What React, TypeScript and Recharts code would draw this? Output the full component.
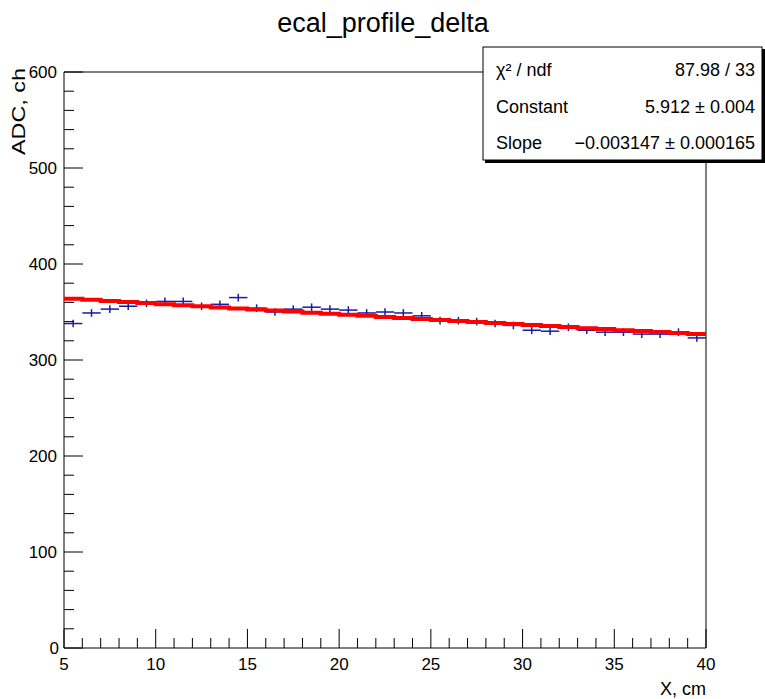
import React from "react";
import {
  ComposedChart,
  XAxis,
  YAxis,
  Scatter,
  Line,
  ErrorBar,
  ReferenceArea,
} from "recharts";

const binCenters = [
  5.5, 6.5, 7.5, 8.5, 9.5, 10.5, 11.5, 12.5, 13.5, 14.5, 15.5, 16.5, 17.5, 18.5,
  19.5, 20.5, 21.5, 22.5, 23.5, 24.5, 25.5, 26.5, 27.5, 28.5, 29.5, 30.5, 31.5,
  32.5, 33.5, 34.5, 35.5, 36.5, 37.5, 38.5, 39.5,
];
const adcValues = [
  338, 349, 353, 356, 359, 361, 361, 356, 358, 365, 354, 350, 353, 355, 353, 352,
  349, 350, 349, 346, 341, 341, 340, 338, 336, 331, 330, 334, 331, 329, 329, 327,
  327, 329, 323,
];
const adcErrors = [
  4, 4, 4, 4, 4, 4, 4, 4, 4, 4, 4, 4, 4, 4, 4, 4, 4, 4, 4, 4, 4, 4, 4, 4, 4, 4, 4,
  4, 4, 4, 4, 4, 4, 4, 4,
];
const fitX = [
  5, 6, 7, 8, 9, 10, 11, 12, 13, 14, 15, 16, 17, 18, 19, 20, 21, 22, 23, 24, 25,
  26, 27, 28, 29, 30, 31, 32, 33, 34, 35, 36, 37, 38, 39, 40,
];
const fitValues = [
  363.8, 362.7, 361.5, 360.4, 359.3, 358.1, 357.0, 355.9, 354.8, 353.7, 352.6,
  351.5, 350.4, 349.3, 348.2, 347.1, 346.0, 344.9, 343.8, 342.8, 341.7, 340.6,
  339.6, 338.5, 337.4, 336.4, 335.3, 334.3, 333.2, 332.2, 331.1, 330.1, 329.1,
  328.0, 327.0, 326.0,
];
const xTicks = [
  5, 6, 7, 8, 9, 10, 11, 12, 13, 14, 15, 16, 17, 18, 19, 20, 21, 22, 23, 24, 25,
  26, 27, 28, 29, 30, 31, 32, 33, 34, 35, 36, 37, 38, 39, 40,
];
const yTicks = [
  0, 20, 40, 60, 80, 100, 120, 140, 160, 180, 200, 220, 240, 260, 280, 300, 320,
  340, 360, 380, 400, 420, 440, 460, 480, 500, 520, 540, 560, 580, 600,
];
const statRows = [
  ["χ² / ndf", "87.98 / 33"],
  ["Constant", "5.912 ± 0.004"],
  ["Slope", "−0.003147 ± 0.000165"],
];

const points = binCenters.map((x, i) => ({
  x,
  y: adcValues[i],
  ex: 0.5,
  ey: adcErrors[i],
}));
const fitData = fitX.map((x, i) => ({ x, fit: fitValues[i] }));

const FONT = "'Liberation Sans', Arial, Helvetica, sans-serif";

const XTick = (props: any) => {
  const { x, y, payload } = props;
  const v = payload.value;
  const major = v % 5 === 0;
  return (
    <g>
      <line x1={x} x2={x} y1={y} y2={y - (major ? 19 : 10)} stroke="#000" strokeWidth={1} />
      {major && (
        <text x={x} y={y + 22} textAnchor="middle" fontSize={17} fontFamily={FONT} fill="#000">
          {v}
        </text>
      )}
    </g>
  );
};

const YTick = (props: any) => {
  const { x, y, payload } = props;
  const v = payload.value;
  const major = v % 100 === 0;
  return (
    <g>
      <line x1={x} x2={x + (major ? 19 : 10)} y1={y} y2={y} stroke="#000" strokeWidth={1} />
      {major && (
        <text
          x={v === 0 ? x - 5 : x - 7}
          y={y + 6}
          textAnchor="end"
          fontSize={17}
          fontFamily={FONT}
          fill="#000"
        >
          {v}
        </text>
      )}
    </g>
  );
};

const NoShape = () => null;

export default function App() {
  return (
    <div style={{ position: "absolute", left: 0, top: 0, width: 765, height: 699, background: "#fff" }}>
      <ComposedChart
        width={765}
        height={699}
        margin={{ top: 72, right: 59, bottom: 21, left: 24 }}
        style={{ position: "absolute", left: 0, top: 0 }}
      >
        <XAxis
          type="number"
          dataKey="x"
          domain={[5, 40]}
          ticks={xTicks}
          interval={0}
          allowDataOverflow
          axisLine={false}
          tickLine={false}
          tickSize={0}
          tickMargin={0}
          height={30}
          tick={<XTick />}
        />
        <YAxis
          type="number"
          domain={[0, 600]}
          ticks={yTicks}
          interval={0}
          allowDataOverflow
          axisLine={false}
          tickLine={false}
          tickSize={0}
          tickMargin={0}
          width={40}
          tick={<YTick />}
        />
        <ReferenceArea x1={5} x2={40} y1={0} y2={600} fill="none" stroke="#000" strokeWidth={1} ifOverflow="visible" />
        <Scatter data={points} dataKey="y" shape={<NoShape />} isAnimationActive={false}>
          <ErrorBar dataKey="ex" direction="x" width={0} stroke="#1a1aa6" strokeWidth={1.5} isAnimationActive={false} />
          <ErrorBar dataKey="ey" direction="y" width={0} stroke="#1a1aa6" strokeWidth={1.5} isAnimationActive={false} />
        </Scatter>
        <Line
          data={fitData}
          dataKey="fit"
          type="stepAfter"
          stroke="#ff0000"
          strokeWidth={4}
          dot={false}
          activeDot={false}
          isAnimationActive={false}
        />
      </ComposedChart>
      <svg
        width={765}
        height={699}
        style={{ position: "absolute", left: 0, top: 0, pointerEvents: "none" }}
      >
        <text x={383} y={32} textAnchor="middle" fontSize={27} fontFamily={FONT} fill="#000">
          ecal_profile_delta
        </text>
        <text
          x={0}
          y={0}
          textAnchor="end"
          fontSize={18}
          fontFamily={FONT}
          fill="#000"
          transform="translate(25 68) rotate(-90) scale(1.3 1)"
        >
          ADC, ch
        </text>
        <text x={706} y={695} textAnchor="end" fontSize={18} fontFamily={FONT} fill="#000">
          X, cm
        </text>
        <rect x={485} y={49} width={280} height={114} fill="#000" />
        <rect x={483} y={47} width={279} height={113} fill="#fff" stroke="#000" strokeWidth={1} />
        {statRows.map((r, i) => (
          <g key={i}>
            <text x={496} y={76 + i * 36.5} fontSize={18} fontFamily={FONT} fill="#000">
              {r[0]}
            </text>
            <text x={755} y={76 + i * 36.5} textAnchor="end" fontSize={18} fontFamily={FONT} fill="#000">
              {r[1]}
            </text>
          </g>
        ))}
      </svg>
    </div>
  );
}
